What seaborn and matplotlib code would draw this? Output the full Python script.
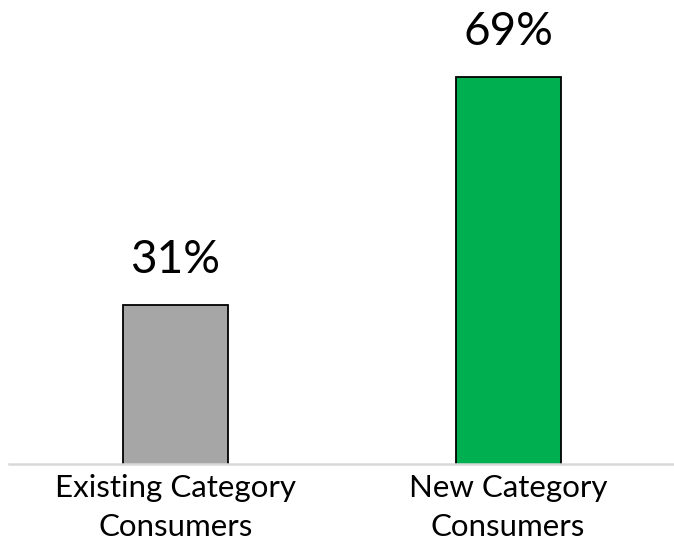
import matplotlib
matplotlib.use("Agg")
import matplotlib.pyplot as plt
import seaborn as sns
import pandas as pd

categories = ["Existing Category\nConsumers", "New Category\nConsumers"]
values = [31, 69]
labels = ["31%", "69%"]
colors = ["#A6A6A6", "#00B050"]

sns.set_theme(style="white")
plt.rcParams['font.family'] = ['Lato', 'DejaVu Sans']

fig = plt.figure(figsize=(6.74, 5.44), dpi=100)
ax = fig.add_axes([9/674, (544-464)/544, 1 - 9/674, 464/544])

df = pd.DataFrame({"cat": categories, "val": values})
sns.barplot(data=df, x="cat", y="val", hue="cat", palette=colors, legend=False,
            saturation=1, width=0.316, edgecolor="black", linewidth=1.3, ax=ax)

ax.set_ylim(4.5, 4.5 + 464/6.0)
ax.set_xlim(-0.5008, 1.499)
for i, (v, lab) in enumerate(zip(values, labels)):
    ax.annotate(lab, (i, v), xytext=(0, 17), textcoords="offset points",
                ha="center", va="bottom", fontsize=33, color="black")

for s in ["top", "right", "left"]:
    ax.spines[s].set_visible(False)
ax.spines["bottom"].set_color("#D9D9D9")
ax.spines["bottom"].set_linewidth(1.8)
ax.set_yticks([])
ax.set_xlabel("")
ax.set_ylabel("")
ax.tick_params(axis="x", length=0, pad=7, labelsize=22.5, colors="black")
for t in ax.get_xticklabels():
    t.set_linespacing(1.5)

fig.savefig("out.png", dpi=100)
